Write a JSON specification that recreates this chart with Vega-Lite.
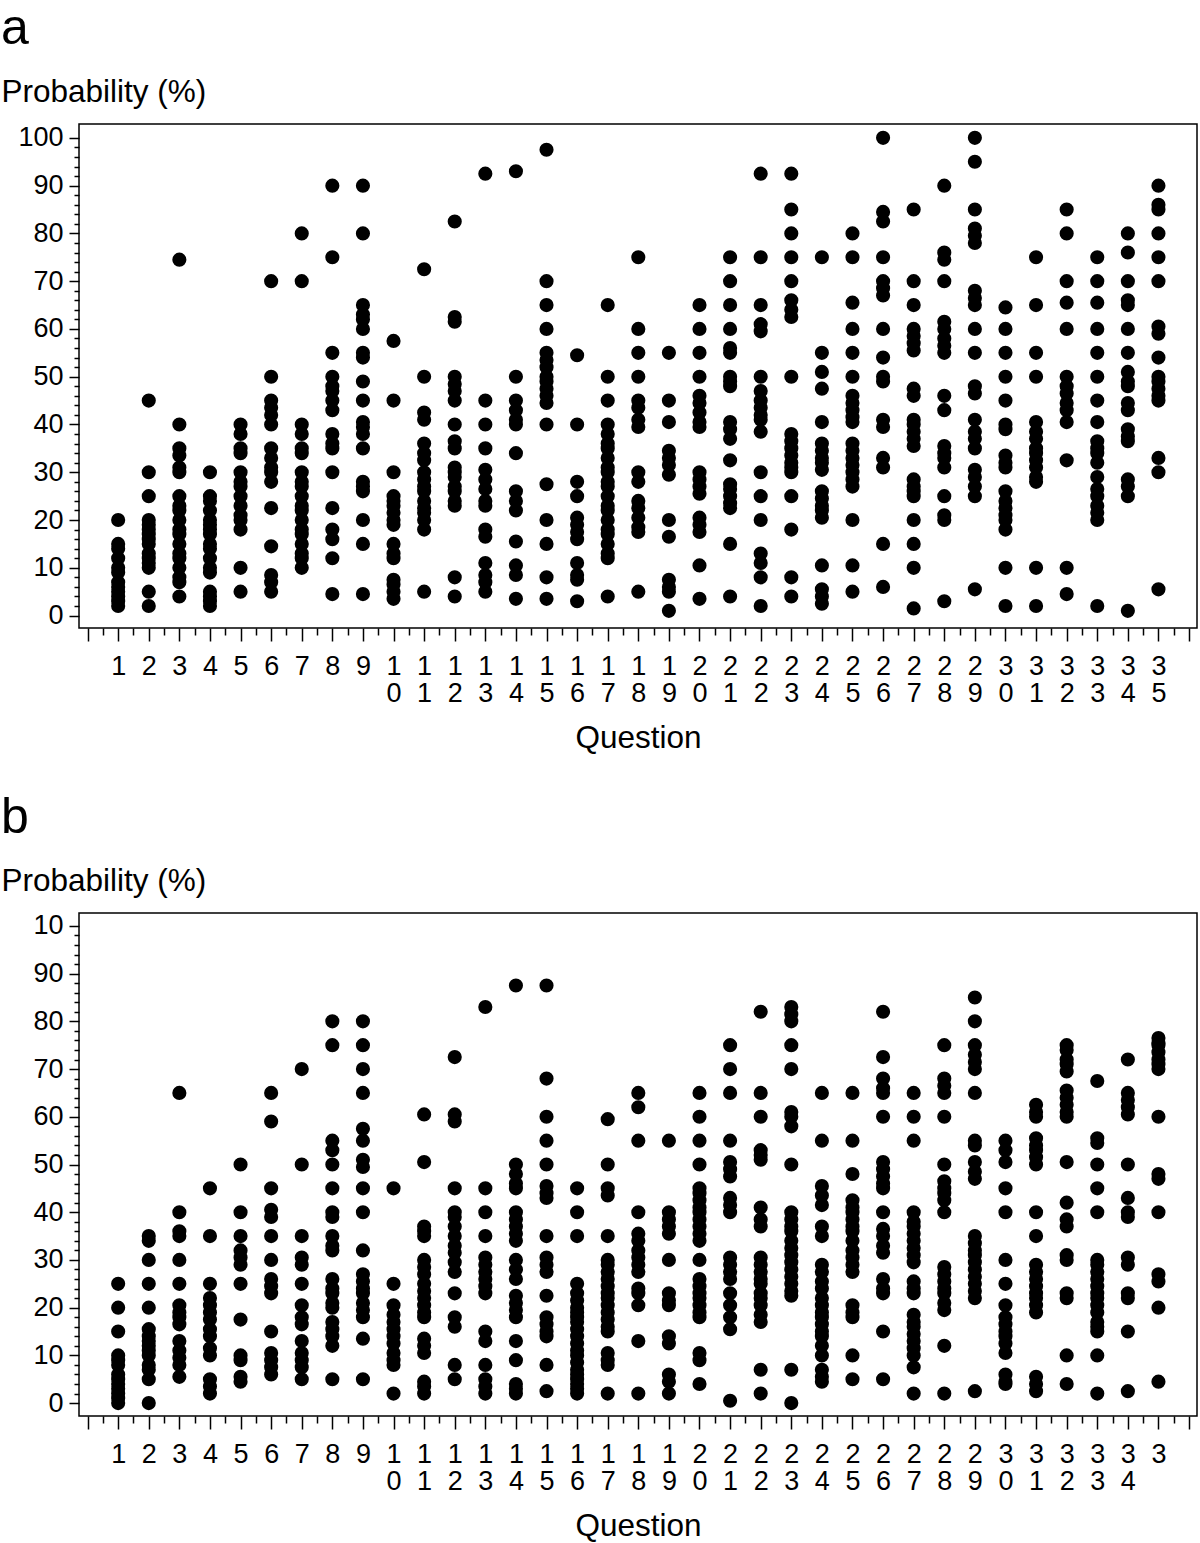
{
"$schema": "https://vega.github.io/schema/vega-lite/v6.json",
"padding": {"left": 0, "top": 3, "right": 2, "bottom": 0},
"background": "white",
"spacing": 37,
"config": {
  "font": "Liberation Sans",
  "view": {"stroke": "black", "strokeWidth": 1.5},
  "axis": {"grid": false, "domain": false, "tickColor": "black", "tickWidth": 1.5, "labelColor": "black", "labelFontSize": 27, "labelFont": "Liberation Sans", "titleFont": "Liberation Sans", "titleFontSize": 31.5, "titleFontWeight": "normal", "titleColor": "black", "labelOverlap": false, "labelFlush": false, "labelBound": false},
  "title": {"font": "Liberation Sans", "fontSize": 50, "fontWeight": "normal", "color": "black"}
},
"datasets": {
"a": [
{"q":1,"v":20},{"q":1,"v":15},{"q":1,"v":14},{"q":1,"v":12},{"q":1,"v":10},{"q":1,"v":9},{"q":1,"v":7},{"q":1,"v":6},{"q":1,"v":5},{"q":1,"v":4},{"q":1,"v":3},{"q":1,"v":2},
{"q":2,"v":45},{"q":2,"v":30},{"q":2,"v":25},{"q":2,"v":20},{"q":2,"v":19},{"q":2,"v":18},{"q":2,"v":17},{"q":2,"v":16},{"q":2,"v":15},{"q":2,"v":13},{"q":2,"v":12},{"q":2,"v":11},{"q":2,"v":10},{"q":2,"v":5},{"q":2,"v":2},
{"q":3,"v":74.5},{"q":3,"v":40},{"q":3,"v":35},{"q":3,"v":33.5},{"q":3,"v":31},{"q":3,"v":30},{"q":3,"v":25},{"q":3,"v":23},{"q":3,"v":22},{"q":3,"v":20},{"q":3,"v":18},{"q":3,"v":17},{"q":3,"v":15},{"q":3,"v":13},{"q":3,"v":12},{"q":3,"v":10},{"q":3,"v":8},{"q":3,"v":7},{"q":3,"v":4},
{"q":4,"v":30},{"q":4,"v":25},{"q":4,"v":24},{"q":4,"v":22},{"q":4,"v":20},{"q":4,"v":19},{"q":4,"v":18},{"q":4,"v":17},{"q":4,"v":15},{"q":4,"v":14},{"q":4,"v":12},{"q":4,"v":10},{"q":4,"v":9},{"q":4,"v":5},{"q":4,"v":4},{"q":4,"v":3},{"q":4,"v":2},
{"q":5,"v":40},{"q":5,"v":38},{"q":5,"v":35},{"q":5,"v":34},{"q":5,"v":30},{"q":5,"v":28},{"q":5,"v":27},{"q":5,"v":25},{"q":5,"v":23},{"q":5,"v":21},{"q":5,"v":20},{"q":5,"v":18},{"q":5,"v":10},{"q":5,"v":5},
{"q":6,"v":70},{"q":6,"v":50},{"q":6,"v":45},{"q":6,"v":43.5},{"q":6,"v":42},{"q":6,"v":40},{"q":6,"v":35},{"q":6,"v":33},{"q":6,"v":31},{"q":6,"v":30},{"q":6,"v":28},{"q":6,"v":22.5},{"q":6,"v":14.5},{"q":6,"v":8.5},{"q":6,"v":7},{"q":6,"v":5},
{"q":7,"v":80},{"q":7,"v":70},{"q":7,"v":40},{"q":7,"v":38},{"q":7,"v":35},{"q":7,"v":34},{"q":7,"v":30},{"q":7,"v":28},{"q":7,"v":27},{"q":7,"v":25},{"q":7,"v":23},{"q":7,"v":22},{"q":7,"v":20},{"q":7,"v":18},{"q":7,"v":17},{"q":7,"v":15},{"q":7,"v":13},{"q":7,"v":12},{"q":7,"v":10},
{"q":8,"v":90},{"q":8,"v":75},{"q":8,"v":55},{"q":8,"v":50},{"q":8,"v":48},{"q":8,"v":47},{"q":8,"v":45},{"q":8,"v":43},{"q":8,"v":38},{"q":8,"v":36},{"q":8,"v":35},{"q":8,"v":30},{"q":8,"v":22.5},{"q":8,"v":18},{"q":8,"v":16},{"q":8,"v":12},{"q":8,"v":4.5},
{"q":9,"v":90},{"q":9,"v":80},{"q":9,"v":65},{"q":9,"v":63},{"q":9,"v":62},{"q":9,"v":60},{"q":9,"v":55},{"q":9,"v":54},{"q":9,"v":49},{"q":9,"v":45},{"q":9,"v":40.5},{"q":9,"v":39.5},{"q":9,"v":38},{"q":9,"v":35},{"q":9,"v":28},{"q":9,"v":27},{"q":9,"v":26},{"q":9,"v":20},{"q":9,"v":15},{"q":9,"v":4.5},
{"q":10,"v":57.5},{"q":10,"v":45},{"q":10,"v":30},{"q":10,"v":25},{"q":10,"v":24},{"q":10,"v":23},{"q":10,"v":21.5},{"q":10,"v":20},{"q":10,"v":19},{"q":10,"v":15},{"q":10,"v":13},{"q":10,"v":12},{"q":10,"v":7.5},{"q":10,"v":6.5},{"q":10,"v":5},{"q":10,"v":3.5},
{"q":11,"v":72.5},{"q":11,"v":50},{"q":11,"v":42.5},{"q":11,"v":41},{"q":11,"v":36},{"q":11,"v":34},{"q":11,"v":32.5},{"q":11,"v":30},{"q":11,"v":28.5},{"q":11,"v":27},{"q":11,"v":26},{"q":11,"v":24},{"q":11,"v":22.5},{"q":11,"v":21.5},{"q":11,"v":20},{"q":11,"v":18},{"q":11,"v":5},
{"q":12,"v":82.5},{"q":12,"v":62.5},{"q":12,"v":61.5},{"q":12,"v":50},{"q":12,"v":48.5},{"q":12,"v":47},{"q":12,"v":45},{"q":12,"v":40},{"q":12,"v":36.5},{"q":12,"v":35},{"q":12,"v":31},{"q":12,"v":30},{"q":12,"v":29},{"q":12,"v":27},{"q":12,"v":26},{"q":12,"v":24},{"q":12,"v":23},{"q":12,"v":8},{"q":12,"v":4},
{"q":13,"v":92.5},{"q":13,"v":45},{"q":13,"v":40},{"q":13,"v":35},{"q":13,"v":30.5},{"q":13,"v":28.5},{"q":13,"v":26.5},{"q":13,"v":24},{"q":13,"v":23},{"q":13,"v":18},{"q":13,"v":16.5},{"q":13,"v":11},{"q":13,"v":8.5},{"q":13,"v":7},{"q":13,"v":5},
{"q":14,"v":93},{"q":14,"v":50},{"q":14,"v":45},{"q":14,"v":43},{"q":14,"v":41},{"q":14,"v":40},{"q":14,"v":34},{"q":14,"v":26},{"q":14,"v":24},{"q":14,"v":22},{"q":14,"v":15.5},{"q":14,"v":10.5},{"q":14,"v":8.5},{"q":14,"v":3.5},
{"q":15,"v":97.5},{"q":15,"v":70},{"q":15,"v":65},{"q":15,"v":60},{"q":15,"v":55},{"q":15,"v":53.5},{"q":15,"v":52},{"q":15,"v":50},{"q":15,"v":49},{"q":15,"v":47.5},{"q":15,"v":46},{"q":15,"v":44.5},{"q":15,"v":40},{"q":15,"v":27.5},{"q":15,"v":20},{"q":15,"v":15},{"q":15,"v":8},{"q":15,"v":3.5},
{"q":16,"v":54.5},{"q":16,"v":40},{"q":16,"v":28},{"q":16,"v":25},{"q":16,"v":20.5},{"q":16,"v":19},{"q":16,"v":17.5},{"q":16,"v":16},{"q":16,"v":11},{"q":16,"v":8.5},{"q":16,"v":7.5},{"q":16,"v":3},
{"q":17,"v":65},{"q":17,"v":50},{"q":17,"v":45},{"q":17,"v":40},{"q":17,"v":38},{"q":17,"v":36},{"q":17,"v":35},{"q":17,"v":33},{"q":17,"v":31},{"q":17,"v":30},{"q":17,"v":28},{"q":17,"v":27},{"q":17,"v":25},{"q":17,"v":23},{"q":17,"v":22},{"q":17,"v":20},{"q":17,"v":18},{"q":17,"v":17},{"q":17,"v":15},{"q":17,"v":13},{"q":17,"v":12},{"q":17,"v":4},
{"q":18,"v":75},{"q":18,"v":60},{"q":18,"v":55},{"q":18,"v":50},{"q":18,"v":45},{"q":18,"v":43.5},{"q":18,"v":41},{"q":18,"v":39.5},{"q":18,"v":30},{"q":18,"v":28},{"q":18,"v":24},{"q":18,"v":22.5},{"q":18,"v":20.5},{"q":18,"v":18.5},{"q":18,"v":17.5},{"q":18,"v":5},
{"q":19,"v":55},{"q":19,"v":45},{"q":19,"v":40.5},{"q":19,"v":34.5},{"q":19,"v":33},{"q":19,"v":31.5},{"q":19,"v":29.5},{"q":19,"v":20},{"q":19,"v":16.5},{"q":19,"v":7.5},{"q":19,"v":6},{"q":19,"v":5},{"q":19,"v":1},
{"q":20,"v":65},{"q":20,"v":60},{"q":20,"v":55},{"q":20,"v":50},{"q":20,"v":46},{"q":20,"v":44.5},{"q":20,"v":42.5},{"q":20,"v":40.5},{"q":20,"v":39.5},{"q":20,"v":30},{"q":20,"v":28.5},{"q":20,"v":27},{"q":20,"v":25.5},{"q":20,"v":20.5},{"q":20,"v":19},{"q":20,"v":17.5},{"q":20,"v":10.5},{"q":20,"v":3.5},
{"q":21,"v":75},{"q":21,"v":70},{"q":21,"v":65},{"q":21,"v":60},{"q":21,"v":56},{"q":21,"v":55},{"q":21,"v":50},{"q":21,"v":49},{"q":21,"v":48},{"q":21,"v":40.5},{"q":21,"v":39},{"q":21,"v":37},{"q":21,"v":32.5},{"q":21,"v":27.5},{"q":21,"v":26.5},{"q":21,"v":25},{"q":21,"v":23.5},{"q":21,"v":22.5},{"q":21,"v":15},{"q":21,"v":4},
{"q":22,"v":92.5},{"q":22,"v":75},{"q":22,"v":65},{"q":22,"v":61},{"q":22,"v":59.5},{"q":22,"v":50},{"q":22,"v":47},{"q":22,"v":45},{"q":22,"v":43.5},{"q":22,"v":42},{"q":22,"v":41},{"q":22,"v":38.5},{"q":22,"v":30},{"q":22,"v":25},{"q":22,"v":20},{"q":22,"v":13},{"q":22,"v":11},{"q":22,"v":8},{"q":22,"v":2},
{"q":23,"v":92.5},{"q":23,"v":85},{"q":23,"v":80},{"q":23,"v":75},{"q":23,"v":70},{"q":23,"v":66},{"q":23,"v":64},{"q":23,"v":62.5},{"q":23,"v":50},{"q":23,"v":38},{"q":23,"v":36.5},{"q":23,"v":35},{"q":23,"v":33.5},{"q":23,"v":32},{"q":23,"v":31},{"q":23,"v":30},{"q":23,"v":25},{"q":23,"v":18},{"q":23,"v":8},{"q":23,"v":4},
{"q":24,"v":75},{"q":24,"v":55},{"q":24,"v":51},{"q":24,"v":47.5},{"q":24,"v":40.5},{"q":24,"v":36},{"q":24,"v":34.5},{"q":24,"v":33},{"q":24,"v":32},{"q":24,"v":30.5},{"q":24,"v":26},{"q":24,"v":24.5},{"q":24,"v":23},{"q":24,"v":22},{"q":24,"v":20.5},{"q":24,"v":10.5},{"q":24,"v":5.5},{"q":24,"v":4},{"q":24,"v":2.5},
{"q":25,"v":80},{"q":25,"v":75},{"q":25,"v":65.5},{"q":25,"v":60},{"q":25,"v":55},{"q":25,"v":50},{"q":25,"v":46},{"q":25,"v":44.5},{"q":25,"v":43},{"q":25,"v":41.5},{"q":25,"v":40.5},{"q":25,"v":36},{"q":25,"v":34.5},{"q":25,"v":33},{"q":25,"v":31.5},{"q":25,"v":30},{"q":25,"v":28.5},{"q":25,"v":27},{"q":25,"v":20},{"q":25,"v":10.5},{"q":25,"v":5},
{"q":26,"v":100},{"q":26,"v":84.5},{"q":26,"v":82.5},{"q":26,"v":75},{"q":26,"v":70},{"q":26,"v":68.5},{"q":26,"v":67},{"q":26,"v":60},{"q":26,"v":54},{"q":26,"v":50},{"q":26,"v":49},{"q":26,"v":41},{"q":26,"v":39.5},{"q":26,"v":33},{"q":26,"v":31},{"q":26,"v":15},{"q":26,"v":6},
{"q":27,"v":85},{"q":27,"v":70},{"q":27,"v":65},{"q":27,"v":60},{"q":27,"v":58.5},{"q":27,"v":57},{"q":27,"v":55.5},{"q":27,"v":47.5},{"q":27,"v":46},{"q":27,"v":41},{"q":27,"v":40},{"q":27,"v":38.5},{"q":27,"v":37},{"q":27,"v":35.5},{"q":27,"v":28.5},{"q":27,"v":27},{"q":27,"v":26},{"q":27,"v":25},{"q":27,"v":20},{"q":27,"v":15},{"q":27,"v":10},{"q":27,"v":1.5},
{"q":28,"v":90},{"q":28,"v":76},{"q":28,"v":74.5},{"q":28,"v":70},{"q":28,"v":61.5},{"q":28,"v":60},{"q":28,"v":58},{"q":28,"v":56.5},{"q":28,"v":55},{"q":28,"v":46},{"q":28,"v":43},{"q":28,"v":35.5},{"q":28,"v":34},{"q":28,"v":33},{"q":28,"v":31},{"q":28,"v":25},{"q":28,"v":21},{"q":28,"v":20},{"q":28,"v":3},
{"q":29,"v":100},{"q":29,"v":95},{"q":29,"v":85},{"q":29,"v":81},{"q":29,"v":79.5},{"q":29,"v":78},{"q":29,"v":68},{"q":29,"v":66.5},{"q":29,"v":65},{"q":29,"v":60},{"q":29,"v":55},{"q":29,"v":48},{"q":29,"v":46.5},{"q":29,"v":41},{"q":29,"v":38.5},{"q":29,"v":37},{"q":29,"v":35},{"q":29,"v":30.5},{"q":29,"v":29},{"q":29,"v":27},{"q":29,"v":25},{"q":29,"v":5.5},
{"q":30,"v":64.5},{"q":30,"v":60},{"q":30,"v":55},{"q":30,"v":50},{"q":30,"v":45},{"q":30,"v":40},{"q":30,"v":39},{"q":30,"v":33.5},{"q":30,"v":32},{"q":30,"v":31},{"q":30,"v":26},{"q":30,"v":24},{"q":30,"v":22.5},{"q":30,"v":21},{"q":30,"v":20},{"q":30,"v":18},{"q":30,"v":10},{"q":30,"v":2},
{"q":31,"v":75},{"q":31,"v":65},{"q":31,"v":55},{"q":31,"v":50},{"q":31,"v":40.5},{"q":31,"v":38.5},{"q":31,"v":37},{"q":31,"v":35},{"q":31,"v":34},{"q":31,"v":32.5},{"q":31,"v":31},{"q":31,"v":29},{"q":31,"v":28},{"q":31,"v":10},{"q":31,"v":2},
{"q":32,"v":85},{"q":32,"v":80},{"q":32,"v":70},{"q":32,"v":65.5},{"q":32,"v":60},{"q":32,"v":50},{"q":32,"v":48},{"q":32,"v":46.5},{"q":32,"v":44.5},{"q":32,"v":43},{"q":32,"v":40.5},{"q":32,"v":32.5},{"q":32,"v":10},{"q":32,"v":4.5},
{"q":33,"v":75},{"q":33,"v":70},{"q":33,"v":65.5},{"q":33,"v":60},{"q":33,"v":55},{"q":33,"v":50},{"q":33,"v":45},{"q":33,"v":40.5},{"q":33,"v":36.5},{"q":33,"v":35},{"q":33,"v":34},{"q":33,"v":32},{"q":33,"v":29},{"q":33,"v":26.5},{"q":33,"v":25},{"q":33,"v":23},{"q":33,"v":21.5},{"q":33,"v":20},{"q":33,"v":2},
{"q":34,"v":80},{"q":34,"v":76},{"q":34,"v":70},{"q":34,"v":66},{"q":34,"v":65},{"q":34,"v":60},{"q":34,"v":55},{"q":34,"v":51},{"q":34,"v":49},{"q":34,"v":48},{"q":34,"v":44.5},{"q":34,"v":43},{"q":34,"v":39},{"q":34,"v":37.5},{"q":34,"v":36.5},{"q":34,"v":28.5},{"q":34,"v":27},{"q":34,"v":25},{"q":34,"v":1},
{"q":35,"v":90},{"q":35,"v":86},{"q":35,"v":85},{"q":35,"v":80},{"q":35,"v":75},{"q":35,"v":70},{"q":35,"v":60.5},{"q":35,"v":59},{"q":35,"v":54},{"q":35,"v":50},{"q":35,"v":49},{"q":35,"v":47.5},{"q":35,"v":46},{"q":35,"v":45},{"q":35,"v":33},{"q":35,"v":30},{"q":35,"v":5.5}
],
"b": [
{"q":1,"v":25},{"q":1,"v":20},{"q":1,"v":15},{"q":1,"v":10},{"q":1,"v":9},{"q":1,"v":8},{"q":1,"v":6},{"q":1,"v":5},{"q":1,"v":4},{"q":1,"v":3},{"q":1,"v":2},{"q":1,"v":1},{"q":1,"v":0},
{"q":2,"v":35},{"q":2,"v":34},{"q":2,"v":30},{"q":2,"v":25},{"q":2,"v":20},{"q":2,"v":15.5},{"q":2,"v":14},{"q":2,"v":13},{"q":2,"v":12},{"q":2,"v":11},{"q":2,"v":10},{"q":2,"v":8},{"q":2,"v":7},{"q":2,"v":5},{"q":2,"v":0},
{"q":3,"v":65},{"q":3,"v":40},{"q":3,"v":36},{"q":3,"v":35},{"q":3,"v":30},{"q":3,"v":25},{"q":3,"v":20.5},{"q":3,"v":19},{"q":3,"v":18},{"q":3,"v":16.5},{"q":3,"v":13},{"q":3,"v":11},{"q":3,"v":9.5},{"q":3,"v":8},{"q":3,"v":5.5},
{"q":4,"v":45},{"q":4,"v":35},{"q":4,"v":25},{"q":4,"v":22},{"q":4,"v":20.5},{"q":4,"v":19},{"q":4,"v":17.5},{"q":4,"v":15.5},{"q":4,"v":14},{"q":4,"v":11.5},{"q":4,"v":10},{"q":4,"v":5},{"q":4,"v":3.5},{"q":4,"v":2},
{"q":5,"v":50},{"q":5,"v":40},{"q":5,"v":35},{"q":5,"v":32},{"q":5,"v":30.5},{"q":5,"v":29},{"q":5,"v":25},{"q":5,"v":17.5},{"q":5,"v":10},{"q":5,"v":9},{"q":5,"v":5.5},{"q":5,"v":4.5},
{"q":6,"v":65},{"q":6,"v":59},{"q":6,"v":45},{"q":6,"v":40.5},{"q":6,"v":39},{"q":6,"v":35},{"q":6,"v":30},{"q":6,"v":26},{"q":6,"v":24.5},{"q":6,"v":23},{"q":6,"v":15},{"q":6,"v":10.5},{"q":6,"v":9},{"q":6,"v":7.5},{"q":6,"v":6},
{"q":7,"v":70},{"q":7,"v":50},{"q":7,"v":35},{"q":7,"v":30.5},{"q":7,"v":29},{"q":7,"v":25},{"q":7,"v":20.5},{"q":7,"v":18},{"q":7,"v":16.5},{"q":7,"v":13},{"q":7,"v":10.5},{"q":7,"v":9},{"q":7,"v":7.5},{"q":7,"v":5},
{"q":8,"v":80},{"q":8,"v":75},{"q":8,"v":55},{"q":8,"v":53},{"q":8,"v":50},{"q":8,"v":45},{"q":8,"v":40},{"q":8,"v":39},{"q":8,"v":35},{"q":8,"v":33},{"q":8,"v":32},{"q":8,"v":26},{"q":8,"v":24},{"q":8,"v":23},{"q":8,"v":21},{"q":8,"v":20},{"q":8,"v":17},{"q":8,"v":15.5},{"q":8,"v":14},{"q":8,"v":12},{"q":8,"v":5},
{"q":9,"v":80},{"q":9,"v":75},{"q":9,"v":70},{"q":9,"v":65},{"q":9,"v":57.5},{"q":9,"v":55},{"q":9,"v":51},{"q":9,"v":49.5},{"q":9,"v":45},{"q":9,"v":40},{"q":9,"v":32},{"q":9,"v":27},{"q":9,"v":25.5},{"q":9,"v":24},{"q":9,"v":23},{"q":9,"v":21},{"q":9,"v":19.5},{"q":9,"v":18},{"q":9,"v":13.5},{"q":9,"v":5},
{"q":10,"v":45},{"q":10,"v":25},{"q":10,"v":20.5},{"q":10,"v":18.5},{"q":10,"v":17},{"q":10,"v":15.5},{"q":10,"v":14},{"q":10,"v":12.5},{"q":10,"v":10.5},{"q":10,"v":9},{"q":10,"v":8},{"q":10,"v":2},
{"q":11,"v":60.5},{"q":11,"v":50.5},{"q":11,"v":37},{"q":11,"v":36},{"q":11,"v":35},{"q":11,"v":30},{"q":11,"v":28.5},{"q":11,"v":27},{"q":11,"v":25},{"q":11,"v":23.5},{"q":11,"v":22},{"q":11,"v":20.5},{"q":11,"v":19},{"q":11,"v":18},{"q":11,"v":13.5},{"q":11,"v":12},{"q":11,"v":10.5},{"q":11,"v":4.5},{"q":11,"v":3.5},{"q":11,"v":2},
{"q":12,"v":72.5},{"q":12,"v":60.5},{"q":12,"v":59},{"q":12,"v":45},{"q":12,"v":40},{"q":12,"v":39},{"q":12,"v":37},{"q":12,"v":35},{"q":12,"v":33},{"q":12,"v":31.5},{"q":12,"v":29.5},{"q":12,"v":27.5},{"q":12,"v":23},{"q":12,"v":18},{"q":12,"v":16},{"q":12,"v":8},{"q":12,"v":5},
{"q":13,"v":83},{"q":13,"v":45},{"q":13,"v":40},{"q":13,"v":35},{"q":13,"v":30.5},{"q":13,"v":29},{"q":13,"v":27.5},{"q":13,"v":26},{"q":13,"v":24.5},{"q":13,"v":23},{"q":13,"v":15},{"q":13,"v":13},{"q":13,"v":8},{"q":13,"v":5},{"q":13,"v":3.5},{"q":13,"v":2},
{"q":14,"v":87.5},{"q":14,"v":50},{"q":14,"v":48},{"q":14,"v":46},{"q":14,"v":45},{"q":14,"v":40},{"q":14,"v":38.5},{"q":14,"v":37},{"q":14,"v":35.5},{"q":14,"v":34},{"q":14,"v":30},{"q":14,"v":28},{"q":14,"v":26},{"q":14,"v":22.5},{"q":14,"v":21},{"q":14,"v":19.5},{"q":14,"v":18},{"q":14,"v":13},{"q":14,"v":9},{"q":14,"v":4},{"q":14,"v":3},{"q":14,"v":2},
{"q":15,"v":87.5},{"q":15,"v":68},{"q":15,"v":60},{"q":15,"v":55},{"q":15,"v":50},{"q":15,"v":45.5},{"q":15,"v":44},{"q":15,"v":43},{"q":15,"v":35},{"q":15,"v":30.5},{"q":15,"v":29},{"q":15,"v":27.5},{"q":15,"v":22.5},{"q":15,"v":18},{"q":15,"v":16.5},{"q":15,"v":15},{"q":15,"v":14},{"q":15,"v":8},{"q":15,"v":2.5},
{"q":16,"v":45},{"q":16,"v":40},{"q":16,"v":35},{"q":16,"v":25},{"q":16,"v":23},{"q":16,"v":21.5},{"q":16,"v":20},{"q":16,"v":19},{"q":16,"v":18},{"q":16,"v":17},{"q":16,"v":15.5},{"q":16,"v":14},{"q":16,"v":12.5},{"q":16,"v":11},{"q":16,"v":10},{"q":16,"v":8.5},{"q":16,"v":7},{"q":16,"v":6},{"q":16,"v":5},{"q":16,"v":4},{"q":16,"v":3},{"q":16,"v":2},
{"q":17,"v":59.5},{"q":17,"v":50},{"q":17,"v":45},{"q":17,"v":43.5},{"q":17,"v":35},{"q":17,"v":30},{"q":17,"v":29},{"q":17,"v":27.5},{"q":17,"v":26},{"q":17,"v":24.5},{"q":17,"v":23},{"q":17,"v":22},{"q":17,"v":20.5},{"q":17,"v":19},{"q":17,"v":17.5},{"q":17,"v":16},{"q":17,"v":15},{"q":17,"v":10.5},{"q":17,"v":9},{"q":17,"v":8},{"q":17,"v":2},
{"q":18,"v":65},{"q":18,"v":62},{"q":18,"v":55},{"q":18,"v":40},{"q":18,"v":35.5},{"q":18,"v":34},{"q":18,"v":32},{"q":18,"v":30.5},{"q":18,"v":29},{"q":18,"v":27.5},{"q":18,"v":24},{"q":18,"v":23},{"q":18,"v":20.5},{"q":18,"v":13},{"q":18,"v":2},
{"q":19,"v":55},{"q":19,"v":40},{"q":19,"v":38.5},{"q":19,"v":37},{"q":19,"v":35.5},{"q":19,"v":30},{"q":19,"v":23},{"q":19,"v":21.5},{"q":19,"v":20.5},{"q":19,"v":14},{"q":19,"v":12.5},{"q":19,"v":6},{"q":19,"v":4.5},{"q":19,"v":2},
{"q":20,"v":65},{"q":20,"v":60},{"q":20,"v":55},{"q":20,"v":50},{"q":20,"v":45},{"q":20,"v":44},{"q":20,"v":42.5},{"q":20,"v":41},{"q":20,"v":40},{"q":20,"v":38.5},{"q":20,"v":37},{"q":20,"v":35.5},{"q":20,"v":34},{"q":20,"v":30},{"q":20,"v":26},{"q":20,"v":24.5},{"q":20,"v":23},{"q":20,"v":22},{"q":20,"v":20.5},{"q":20,"v":19},{"q":20,"v":18},{"q":20,"v":10.5},{"q":20,"v":9},{"q":20,"v":4},
{"q":21,"v":75},{"q":21,"v":70},{"q":21,"v":65},{"q":21,"v":55},{"q":21,"v":50.5},{"q":21,"v":49},{"q":21,"v":47.5},{"q":21,"v":43},{"q":21,"v":41.5},{"q":21,"v":40},{"q":21,"v":30.5},{"q":21,"v":29},{"q":21,"v":27.5},{"q":21,"v":26},{"q":21,"v":23},{"q":21,"v":20.5},{"q":21,"v":18},{"q":21,"v":15.5},{"q":21,"v":0.5},
{"q":22,"v":82},{"q":22,"v":65},{"q":22,"v":60},{"q":22,"v":53},{"q":22,"v":52},{"q":22,"v":51},{"q":22,"v":41},{"q":22,"v":38.5},{"q":22,"v":37},{"q":22,"v":30.5},{"q":22,"v":29},{"q":22,"v":27.5},{"q":22,"v":26},{"q":22,"v":25},{"q":22,"v":23},{"q":22,"v":22},{"q":22,"v":20.5},{"q":22,"v":18.5},{"q":22,"v":17},{"q":22,"v":7},{"q":22,"v":2},
{"q":23,"v":83},{"q":23,"v":81.5},{"q":23,"v":80},{"q":23,"v":75},{"q":23,"v":70},{"q":23,"v":61},{"q":23,"v":60},{"q":23,"v":58},{"q":23,"v":50},{"q":23,"v":40},{"q":23,"v":38.5},{"q":23,"v":37},{"q":23,"v":36},{"q":23,"v":34},{"q":23,"v":32.5},{"q":23,"v":31},{"q":23,"v":29.5},{"q":23,"v":28},{"q":23,"v":26.5},{"q":23,"v":25},{"q":23,"v":23.5},{"q":23,"v":22.5},{"q":23,"v":7},{"q":23,"v":0},
{"q":24,"v":65},{"q":24,"v":55},{"q":24,"v":45.5},{"q":24,"v":43.5},{"q":24,"v":41.5},{"q":24,"v":37},{"q":24,"v":35},{"q":24,"v":29},{"q":24,"v":27.5},{"q":24,"v":25.5},{"q":24,"v":24},{"q":24,"v":22},{"q":24,"v":20.5},{"q":24,"v":19},{"q":24,"v":18},{"q":24,"v":16.5},{"q":24,"v":15},{"q":24,"v":14},{"q":24,"v":12},{"q":24,"v":10},{"q":24,"v":7},{"q":24,"v":5.5},{"q":24,"v":4.5},
{"q":25,"v":65},{"q":25,"v":55},{"q":25,"v":48},{"q":25,"v":42.5},{"q":25,"v":41},{"q":25,"v":40},{"q":25,"v":38.5},{"q":25,"v":37},{"q":25,"v":36},{"q":25,"v":34},{"q":25,"v":32},{"q":25,"v":30.5},{"q":25,"v":29},{"q":25,"v":27.5},{"q":25,"v":20.5},{"q":25,"v":19},{"q":25,"v":18},{"q":25,"v":10},{"q":25,"v":5},
{"q":26,"v":82},{"q":26,"v":72.5},{"q":26,"v":68},{"q":26,"v":66},{"q":26,"v":65},{"q":26,"v":60},{"q":26,"v":50.5},{"q":26,"v":49},{"q":26,"v":47.5},{"q":26,"v":46},{"q":26,"v":45},{"q":26,"v":40},{"q":26,"v":36.5},{"q":26,"v":35},{"q":26,"v":33},{"q":26,"v":31.5},{"q":26,"v":26},{"q":26,"v":24},{"q":26,"v":23},{"q":26,"v":15},{"q":26,"v":5},
{"q":27,"v":65},{"q":27,"v":60},{"q":27,"v":55},{"q":27,"v":40},{"q":27,"v":38},{"q":27,"v":37},{"q":27,"v":35.5},{"q":27,"v":34},{"q":27,"v":32.5},{"q":27,"v":31},{"q":27,"v":29.5},{"q":27,"v":25.5},{"q":27,"v":24},{"q":27,"v":23},{"q":27,"v":18.5},{"q":27,"v":17},{"q":27,"v":16},{"q":27,"v":14.5},{"q":27,"v":13},{"q":27,"v":11.5},{"q":27,"v":10},{"q":27,"v":7.5},{"q":27,"v":2},
{"q":28,"v":75},{"q":28,"v":68},{"q":28,"v":66.5},{"q":28,"v":65},{"q":28,"v":60},{"q":28,"v":50},{"q":28,"v":46.5},{"q":28,"v":45},{"q":28,"v":44},{"q":28,"v":42.5},{"q":28,"v":40},{"q":28,"v":28.5},{"q":28,"v":27},{"q":28,"v":25.5},{"q":28,"v":24},{"q":28,"v":23},{"q":28,"v":21},{"q":28,"v":19.5},{"q":28,"v":12},{"q":28,"v":2},
{"q":29,"v":85},{"q":29,"v":80},{"q":29,"v":75},{"q":29,"v":73},{"q":29,"v":71.5},{"q":29,"v":70},{"q":29,"v":65},{"q":29,"v":55},{"q":29,"v":54},{"q":29,"v":50.5},{"q":29,"v":48.5},{"q":29,"v":47},{"q":29,"v":35},{"q":29,"v":33.5},{"q":29,"v":32},{"q":29,"v":31},{"q":29,"v":29.5},{"q":29,"v":28},{"q":29,"v":26.5},{"q":29,"v":25},{"q":29,"v":23.5},{"q":29,"v":22},{"q":29,"v":2.5},
{"q":30,"v":55},{"q":30,"v":53},{"q":30,"v":50.5},{"q":30,"v":45},{"q":30,"v":40},{"q":30,"v":30},{"q":30,"v":25},{"q":30,"v":20.5},{"q":30,"v":18},{"q":30,"v":16.5},{"q":30,"v":15},{"q":30,"v":14},{"q":30,"v":12.5},{"q":30,"v":10.5},{"q":30,"v":6},{"q":30,"v":4.5},{"q":30,"v":4},
{"q":31,"v":62.5},{"q":31,"v":61},{"q":31,"v":60},{"q":31,"v":55.5},{"q":31,"v":54},{"q":31,"v":53},{"q":31,"v":51.5},{"q":31,"v":50},{"q":31,"v":40},{"q":31,"v":35},{"q":31,"v":29},{"q":31,"v":27.5},{"q":31,"v":26},{"q":31,"v":24.5},{"q":31,"v":23},{"q":31,"v":22},{"q":31,"v":20.5},{"q":31,"v":19},{"q":31,"v":5.5},{"q":31,"v":4},{"q":31,"v":2.5},
{"q":32,"v":75},{"q":32,"v":74},{"q":32,"v":72},{"q":32,"v":71},{"q":32,"v":69.5},{"q":32,"v":65.5},{"q":32,"v":64},{"q":32,"v":62.5},{"q":32,"v":61},{"q":32,"v":60},{"q":32,"v":50.5},{"q":32,"v":42},{"q":32,"v":38.5},{"q":32,"v":37},{"q":32,"v":31},{"q":32,"v":30},{"q":32,"v":23},{"q":32,"v":22},{"q":32,"v":10},{"q":32,"v":4},
{"q":33,"v":67.5},{"q":33,"v":55.5},{"q":33,"v":54.5},{"q":33,"v":50},{"q":33,"v":45},{"q":33,"v":40},{"q":33,"v":30},{"q":33,"v":29},{"q":33,"v":27.5},{"q":33,"v":26},{"q":33,"v":24.5},{"q":33,"v":23},{"q":33,"v":22},{"q":33,"v":20.5},{"q":33,"v":19},{"q":33,"v":17},{"q":33,"v":16},{"q":33,"v":15},{"q":33,"v":10},{"q":33,"v":2},
{"q":34,"v":72},{"q":34,"v":65},{"q":34,"v":63.5},{"q":34,"v":62},{"q":34,"v":60.5},{"q":34,"v":50},{"q":34,"v":43},{"q":34,"v":40},{"q":34,"v":39},{"q":34,"v":30.5},{"q":34,"v":29},{"q":34,"v":23},{"q":34,"v":22},{"q":34,"v":15},{"q":34,"v":2.5},
{"q":35,"v":76.5},{"q":35,"v":75.5},{"q":35,"v":75},{"q":35,"v":73.5},{"q":35,"v":72},{"q":35,"v":71},{"q":35,"v":70},{"q":35,"v":60},{"q":35,"v":48},{"q":35,"v":47},{"q":35,"v":40},{"q":35,"v":27},{"q":35,"v":25.5},{"q":35,"v":20},{"q":35,"v":4.5}
]
},
"vconcat": [
{
  "width": 1118, "height": 504,
  "title": {"text": "a", "anchor": "start", "frame": "bounds", "baseline": "alphabetic", "offset": -18},
  "data": {"name": "a"},
  "mark": {"type": "circle", "size": 200, "color": "black", "opacity": 1},
  "encoding": {
    "x": {"field": "q", "type": "quantitative", "scale": {"domain": [-0.28, 36.26], "nice": false, "zero": false},
      "axis": {"title": "Question", "titleY": 119, "titleBaseline": "alphabetic",
        "values": [0,0.5,1,1.5,2,2.5,3,3.5,4,4.5,5,5.5,6,6.5,7,7.5,8,8.5,9,9.5,10,10.5,11,11.5,12,12.5,13,13.5,14,14.5,15,15.5,16,16.5,17,17.5,18,18.5,19,19.5,20,20.5,21,21.5,22,22.5,23,23.5,24,24.5,25,25.5,26,26.5,27,27.5,28,28.5,29,29.5,30,30.5,31,31.5,32,32.5,33,33.5,34,34.5,35,35.5,36],
        "tickSize": {"condition": {"test": "datum.value % 1 === 0", "value": 13}, "value": 7},
        "labelExpr": "(datum.value % 1 !== 0 || datum.value < 1 || datum.value > 35) ? '' : (datum.value < 10 ? toString(datum.value) : [substring(toString(datum.value), 0, 1), substring(toString(datum.value), 1, 2)])",
        "labelBaseline": "top", "labelPadding": 12, "labelLineHeight": 27}},
    "y": {"field": "v", "type": "quantitative", "scale": {"domain": [-2.6, 102.9], "nice": false, "zero": false},
      "axis": {"title": "Probability (%)", "titleAngle": 0, "titleAlign": "left", "titleBaseline": "alphabetic", "titleX": -78, "titleY": -23,
        "values": [0,2,4,6,8,10,12,14,16,18,20,22,24,26,28,30,32,34,36,38,40,42,44,46,48,50,52,54,56,58,60,62,64,66,68,70,72,74,76,78,80,82,84,86,88,90,92,94,96,98,100],
        "tickSize": {"condition": {"test": "datum.value % 10 === 0", "value": 10}, "value": 5},
        "labelExpr": "datum.value % 10 === 0 ? datum.label : ''",
        "labelPadding": 6}}
  }
},
{
  "width": 1118, "height": 503,
  "title": {"text": "b", "anchor": "start", "frame": "bounds", "baseline": "alphabetic", "offset": -18},
  "data": {"name": "b"},
  "mark": {"type": "circle", "size": 200, "color": "black", "opacity": 1},
  "encoding": {
    "x": {"field": "q", "type": "quantitative", "scale": {"domain": [-0.28, 36.26], "nice": false, "zero": false},
      "axis": {"title": "Question", "titleY": 119, "titleBaseline": "alphabetic",
        "values": [0,0.5,1,1.5,2,2.5,3,3.5,4,4.5,5,5.5,6,6.5,7,7.5,8,8.5,9,9.5,10,10.5,11,11.5,12,12.5,13,13.5,14,14.5,15,15.5,16,16.5,17,17.5,18,18.5,19,19.5,20,20.5,21,21.5,22,22.5,23,23.5,24,24.5,25,25.5,26,26.5,27,27.5,28,28.5,29,29.5,30,30.5,31,31.5,32,32.5,33,33.5,34,34.5,35,35.5,36],
        "tickSize": {"condition": {"test": "datum.value % 1 === 0", "value": 13}, "value": 7},
        "labelExpr": "(datum.value % 1 !== 0 || datum.value < 1 || datum.value > 35) ? '' : (datum.value === 35 ? '3' : (datum.value < 10 ? toString(datum.value) : [substring(toString(datum.value), 0, 1), substring(toString(datum.value), 1, 2)]))",
        "labelBaseline": "top", "labelPadding": 12, "labelLineHeight": 27}},
    "y": {"field": "v", "type": "quantitative", "scale": {"domain": [-2.7, 102.7], "nice": false, "zero": false},
      "axis": {"title": "Probability (%)", "titleAngle": 0, "titleAlign": "left", "titleBaseline": "alphabetic", "titleX": -78, "titleY": -23,
        "values": [0,2,4,6,8,10,12,14,16,18,20,22,24,26,28,30,32,34,36,38,40,42,44,46,48,50,52,54,56,58,60,62,64,66,68,70,72,74,76,78,80,82,84,86,88,90,92,94,96,98,100],
        "tickSize": {"condition": {"test": "datum.value % 10 === 0", "value": 10}, "value": 5},
        "labelExpr": "datum.value % 10 === 0 ? (datum.value === 100 ? '10' : datum.label) : ''",
        "labelPadding": 6}}
  }
}
]
}
